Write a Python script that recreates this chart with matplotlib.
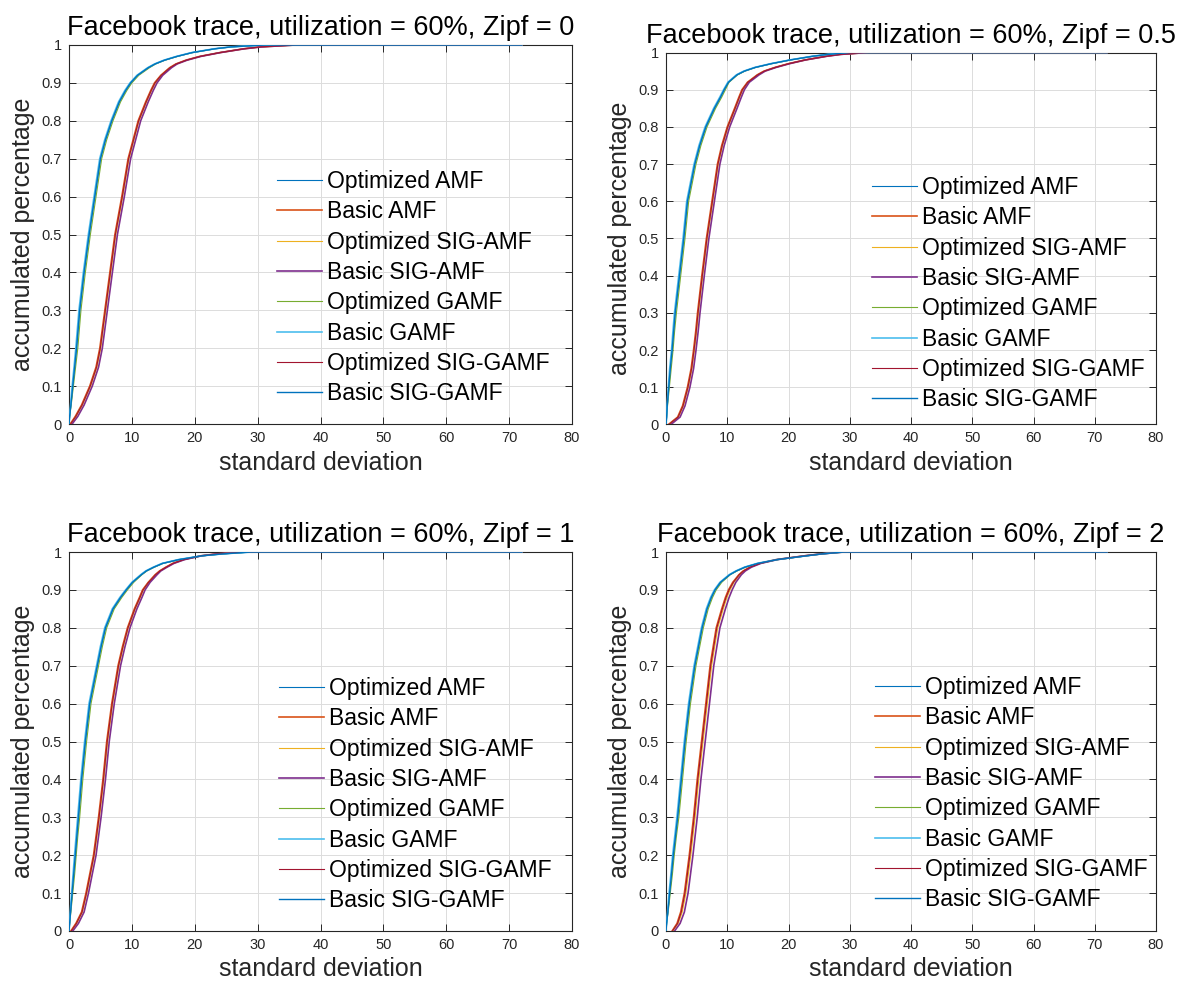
import matplotlib
matplotlib.use("Agg")
import matplotlib.pyplot as plt

plt.rcParams['font.family'] = ['Liberation Sans', 'DejaVu Sans']

# accumulated percentage levels shared by every curve
levels = [0, 0.02, 0.05, 0.1, 0.15, 0.2, 0.25, 0.3, 0.4, 0.5, 0.6, 0.7, 0.75, 0.8, 0.85,
          0.88, 0.9, 0.92, 0.94, 0.95, 0.96, 0.97, 0.98, 0.99, 0.995, 1.0, 1.0]

labels = ["Optimized AMF", "Basic AMF", "Optimized SIG-AMF", "Basic SIG-AMF",
          "Optimized GAMF", "Basic GAMF", "Optimized SIG-GAMF", "Basic SIG-GAMF"]
colors = ["#0072BD", "#D95319", "#EDB120", "#7E2F8E",
          "#77AC30", "#4DBEEE", "#A2142F", "#0072BD"]
widths = [0.8, 1.2, 0.8, 1.2, 0.8, 1.2, 0.8, 1.0]

titles = ["Facebook trace, utilization = 60%, Zipf = 0",
          "Facebook trace, utilization = 60%, Zipf = 0.5",
          "Facebook trace, utilization = 60%, Zipf = 1",
          "Facebook trace, utilization = 60%, Zipf = 2"]

# standard deviation at each level, one list per method (same order as labels)
zipf0_x = [
    [0, 0.1, 0.3, 0.6, 0.9, 1.2, 1.45, 1.7, 2.4, 3.2, 4.1, 5.0, 5.8, 6.8, 8.0, 9.0, 9.8, 10.9, 12.6, 13.7, 15.2, 17.2, 19.6, 23.2, 25.8, 31, 72],
    [0.2, 1.0, 2.0, 3.3, 4.3, 4.9, 5.3, 5.7, 6.5, 7.3, 8.4, 9.4, 10.2, 11.0, 12.2, 13.0, 13.6, 14.6, 16.0, 17.0, 18.6, 20.8, 24.0, 27.8, 30.5, 36, 72],
    [0.3, 1.15, 2.15, 3.45, 4.45, 5.05, 5.45, 5.85, 6.65, 7.45, 8.55, 9.55, 10.35, 11.15, 12.35, 13.15, 13.75, 14.7, 16.1, 17.1, 18.7, 20.9, 24.0, 27.8, 30.5, 36, 72],
    [0.5, 1.4, 2.4, 3.7, 4.7, 5.3, 5.7, 6.1, 6.9, 7.7, 8.8, 9.8, 10.6, 11.4, 12.6, 13.4, 14.0, 14.9, 16.3, 17.2, 18.8, 21.0, 24.1, 27.9, 30.6, 36, 72],
    [0, 0.1, 0.35, 0.7, 1.05, 1.4, 1.65, 1.9, 2.6, 3.4, 4.3, 5.2, 6.0, 7.0, 8.2, 9.2, 10.0, 11.1, 12.8, 13.8, 15.3, 17.3, 19.7, 23.2, 25.8, 31, 72],
    [0, 0.08, 0.25, 0.5, 0.8, 1.08, 1.33, 1.58, 2.28, 3.08, 3.98, 4.88, 5.68, 6.68, 7.88, 8.88, 9.7, 10.8, 12.5, 13.6, 15.1, 17.1, 19.5, 23.1, 25.7, 31, 72],
    [0.25, 1.08, 2.08, 3.38, 4.38, 4.98, 5.38, 5.78, 6.58, 7.38, 8.48, 9.48, 10.28, 11.08, 12.28, 13.08, 13.68, 14.65, 16.05, 17.05, 18.65, 20.85, 24.0, 27.8, 30.5, 36, 72],
    [0, 0.1, 0.3, 0.6, 0.9, 1.2, 1.45, 1.7, 2.4, 3.2, 4.1, 5.0, 5.8, 6.8, 8.0, 9.0, 9.8, 10.9, 12.6, 13.7, 15.2, 17.2, 19.6, 23.2, 25.8, 31, 72],
]

zipf05_x = [
    [0, 0.1, 0.2, 0.45, 0.7, 1.0, 1.25, 1.5, 2.2, 2.9, 3.5, 4.7, 5.5, 6.5, 7.9, 8.9, 9.5, 10.2, 11.6, 12.8, 14.6, 17.2, 20.3, 24.0, 26.5, 30, 72],
    [0.4, 1.9, 2.7, 3.5, 4.1, 4.5, 4.85, 5.15, 5.85, 6.6, 7.5, 8.4, 9.1, 10.0, 11.2, 11.9, 12.4, 13.3, 14.9, 16.0, 17.8, 20.0, 22.7, 26.2, 28.5, 33, 72],
    [0.5, 2.05, 2.85, 3.65, 4.25, 4.65, 5.0, 5.3, 6.0, 6.75, 7.65, 8.55, 9.25, 10.15, 11.35, 12.05, 12.55, 13.4, 15.0, 16.1, 17.9, 20.1, 22.8, 26.2, 28.5, 33, 72],
    [0.8, 2.3, 3.1, 3.9, 4.5, 4.9, 5.25, 5.55, 6.25, 7.0, 7.9, 8.8, 9.5, 10.4, 11.6, 12.3, 12.8, 13.6, 15.2, 16.2, 18.0, 20.2, 22.8, 26.3, 28.6, 33, 72],
    [0, 0.1, 0.25, 0.55, 0.85, 1.15, 1.4, 1.7, 2.4, 3.1, 3.7, 4.9, 5.7, 6.7, 8.1, 9.1, 9.7, 10.3, 11.7, 12.9, 14.7, 17.3, 20.4, 24.0, 26.5, 30, 72],
    [0, 0.08, 0.17, 0.38, 0.6, 0.9, 1.13, 1.38, 2.08, 2.78, 3.38, 4.58, 5.38, 6.38, 7.78, 8.78, 9.4, 10.1, 11.5, 12.7, 14.5, 17.1, 20.2, 23.9, 26.4, 30, 72],
    [0.45, 1.98, 2.78, 3.58, 4.18, 4.58, 4.93, 5.23, 5.93, 6.68, 7.58, 8.48, 9.18, 10.08, 11.28, 11.98, 12.48, 13.35, 14.95, 16.05, 17.85, 20.05, 22.7, 26.2, 28.5, 33, 72],
    [0, 0.1, 0.2, 0.45, 0.7, 1.0, 1.25, 1.5, 2.2, 2.9, 3.5, 4.7, 5.5, 6.5, 7.9, 8.9, 9.5, 10.2, 11.6, 12.8, 14.6, 17.2, 20.3, 24.0, 26.5, 30, 72],
]

zipf1_x = [
    [0, 0.1, 0.25, 0.5, 0.75, 1.0, 1.25, 1.5, 2.0, 2.6, 3.3, 4.5, 5.1, 5.8, 7.0, 8.2, 9.1, 10.1, 11.5, 12.3, 13.5, 14.9, 17.5, 21.2, 24.5, 29, 72],
    [0.3, 1.1, 2.0, 2.7, 3.3, 3.9, 4.3, 4.7, 5.4, 6.0, 6.8, 7.8, 8.5, 9.3, 10.4, 11.2, 11.7, 12.6, 13.7, 14.4, 15.4, 16.5, 18.2, 21.0, 23.5, 28, 72],
    [0.4, 1.25, 2.15, 2.85, 3.45, 4.05, 4.45, 4.85, 5.55, 6.15, 6.95, 7.95, 8.65, 9.45, 10.55, 11.35, 11.85, 12.7, 13.8, 14.5, 15.5, 16.6, 18.3, 21.0, 23.5, 28, 72],
    [0.6, 1.5, 2.4, 3.1, 3.7, 4.3, 4.7, 5.1, 5.8, 6.4, 7.2, 8.2, 8.9, 9.7, 10.8, 11.6, 12.1, 12.9, 14.0, 14.6, 15.6, 16.7, 18.4, 21.1, 23.6, 28, 72],
    [0, 0.1, 0.3, 0.6, 0.9, 1.15, 1.4, 1.7, 2.2, 2.8, 3.5, 4.7, 5.3, 6.0, 7.2, 8.4, 9.3, 10.3, 11.6, 12.4, 13.6, 15.0, 17.6, 21.2, 24.5, 29, 72],
    [0, 0.08, 0.2, 0.42, 0.65, 0.88, 1.13, 1.38, 1.88, 2.48, 3.18, 4.38, 4.98, 5.68, 6.88, 8.08, 9.0, 10.0, 11.4, 12.2, 13.4, 14.8, 17.4, 21.1, 24.4, 29, 72],
    [0.35, 1.18, 2.08, 2.78, 3.38, 3.98, 4.38, 4.78, 5.48, 6.08, 6.88, 7.88, 8.58, 9.38, 10.48, 11.28, 11.78, 12.65, 13.75, 14.45, 15.45, 16.55, 18.25, 21.0, 23.5, 28, 72],
    [0, 0.1, 0.25, 0.5, 0.75, 1.0, 1.25, 1.5, 2.0, 2.6, 3.3, 4.5, 5.1, 5.8, 7.0, 8.2, 9.1, 10.1, 11.5, 12.3, 13.5, 14.9, 17.5, 21.2, 24.5, 29, 72],
]

zipf2_x = [
    [0, 0.1, 0.3, 0.6, 0.9, 1.2, 1.55, 1.9, 2.5, 3.1, 3.8, 4.7, 5.3, 5.9, 6.7, 7.4, 8.0, 8.9, 10.4, 11.5, 12.9, 15.0, 18.2, 23.0, 25.5, 29, 72],
    [1.0, 1.8, 2.4, 3.0, 3.4, 3.8, 4.15, 4.5, 5.1, 5.8, 6.5, 7.2, 7.7, 8.2, 9.1, 9.7, 10.2, 10.9, 11.9, 12.6, 13.7, 15.3, 18.0, 22.6, 25.3, 29, 72],
    [1.1, 2.0, 2.65, 3.25, 3.65, 4.05, 4.4, 4.75, 5.35, 6.05, 6.75, 7.45, 7.95, 8.45, 9.35, 9.95, 10.45, 11.1, 12.05, 12.75, 13.8, 15.4, 18.1, 22.6, 25.3, 29, 72],
    [1.4, 2.3, 3.0, 3.6, 4.0, 4.4, 4.75, 5.1, 5.7, 6.4, 7.1, 7.8, 8.3, 8.8, 9.7, 10.3, 10.8, 11.4, 12.3, 12.95, 13.95, 15.5, 18.2, 22.7, 25.4, 29, 72],
    [0, 0.1, 0.35, 0.7, 1.05, 1.35, 1.7, 2.1, 2.7, 3.3, 4.0, 4.9, 5.5, 6.1, 6.9, 7.6, 8.2, 9.1, 10.5, 11.6, 13.0, 15.1, 18.3, 23.0, 25.5, 29, 72],
    [0, 0.08, 0.25, 0.5, 0.8, 1.08, 1.43, 1.78, 2.38, 2.98, 3.68, 4.58, 5.18, 5.78, 6.58, 7.28, 7.9, 8.8, 10.3, 11.4, 12.8, 14.9, 18.1, 22.9, 25.4, 29, 72],
    [1.05, 1.9, 2.5, 3.1, 3.5, 3.9, 4.25, 4.6, 5.2, 5.9, 6.6, 7.3, 7.8, 8.3, 9.2, 9.8, 10.3, 11.0, 11.95, 12.65, 13.75, 15.35, 18.05, 22.6, 25.3, 29, 72],
    [0, 0.1, 0.3, 0.6, 0.9, 1.2, 1.55, 1.9, 2.5, 3.1, 3.8, 4.7, 5.3, 5.9, 6.7, 7.4, 8.0, 8.9, 10.4, 11.5, 12.9, 15.0, 18.2, 23.0, 25.5, 29, 72],
]

panels = [zipf0_x, zipf05_x, zipf1_x, zipf2_x]

W, H = 1180, 990
# axes boxes in pixels: left, right, top, bottom
boxes = [(69, 572, 45, 424), (666, 1156, 52.5, 424.5), (69, 572, 552, 931), (666, 1156, 552, 931)]
# legend top-left corners in pixels
legend_at = [(277, 170), (872, 176), (279, 677), (875, 676)]

fig = plt.figure(figsize=(W / 100, H / 100), dpi=100)
axis_col = "#262626"

for i, xs in enumerate(panels):
    l, r, t, b = boxes[i]
    ax = fig.add_axes([l / W, 1 - b / H, (r - l) / W, (b - t) / H])
    for k in range(len(labels)):
        ax.plot(xs[k], levels, color=colors[k], lw=widths[k], label=labels[k], zorder=3)

    ax.set_xlim(0, 80)
    ax.set_ylim(0, 1)
    ax.set_xticks(range(0, 81, 10))
    ax.set_yticks([j / 10 for j in range(11)])
    ax.set_yticklabels(["0", "0.1", "0.2", "0.3", "0.4", "0.5", "0.6", "0.7", "0.8", "0.9", "1"])
    ax.tick_params(direction="in", top=True, right=True, length=5, width=0.7,
                   labelsize=10.5, colors=axis_col, labelcolor=axis_col, pad=5)
    for s in ax.spines.values():
        s.set_color(axis_col)
        s.set_linewidth(0.8)
    ax.grid(True, color="#dcdcdc", linewidth=0.7)
    ax.set_axisbelow(True)

    ax.set_title(titles[i], fontsize=19.5, pad=7)
    ax.set_xlabel("standard deviation", fontsize=18, labelpad=4, color=axis_col)
    ax.set_ylabel("accumulated percentage", fontsize=18, labelpad=5, color=axis_col)

    lx, ly = legend_at[i]
    ax.legend(loc="upper left", bbox_to_anchor=(lx / W, 1 - ly / H), bbox_transform=fig.transFigure,
              frameon=False, fontsize=16.5, handlelength=1.97, handletextpad=0.2,
              labelspacing=0.32, borderpad=0, borderaxespad=0)

fig.savefig("out.png", dpi=100)
